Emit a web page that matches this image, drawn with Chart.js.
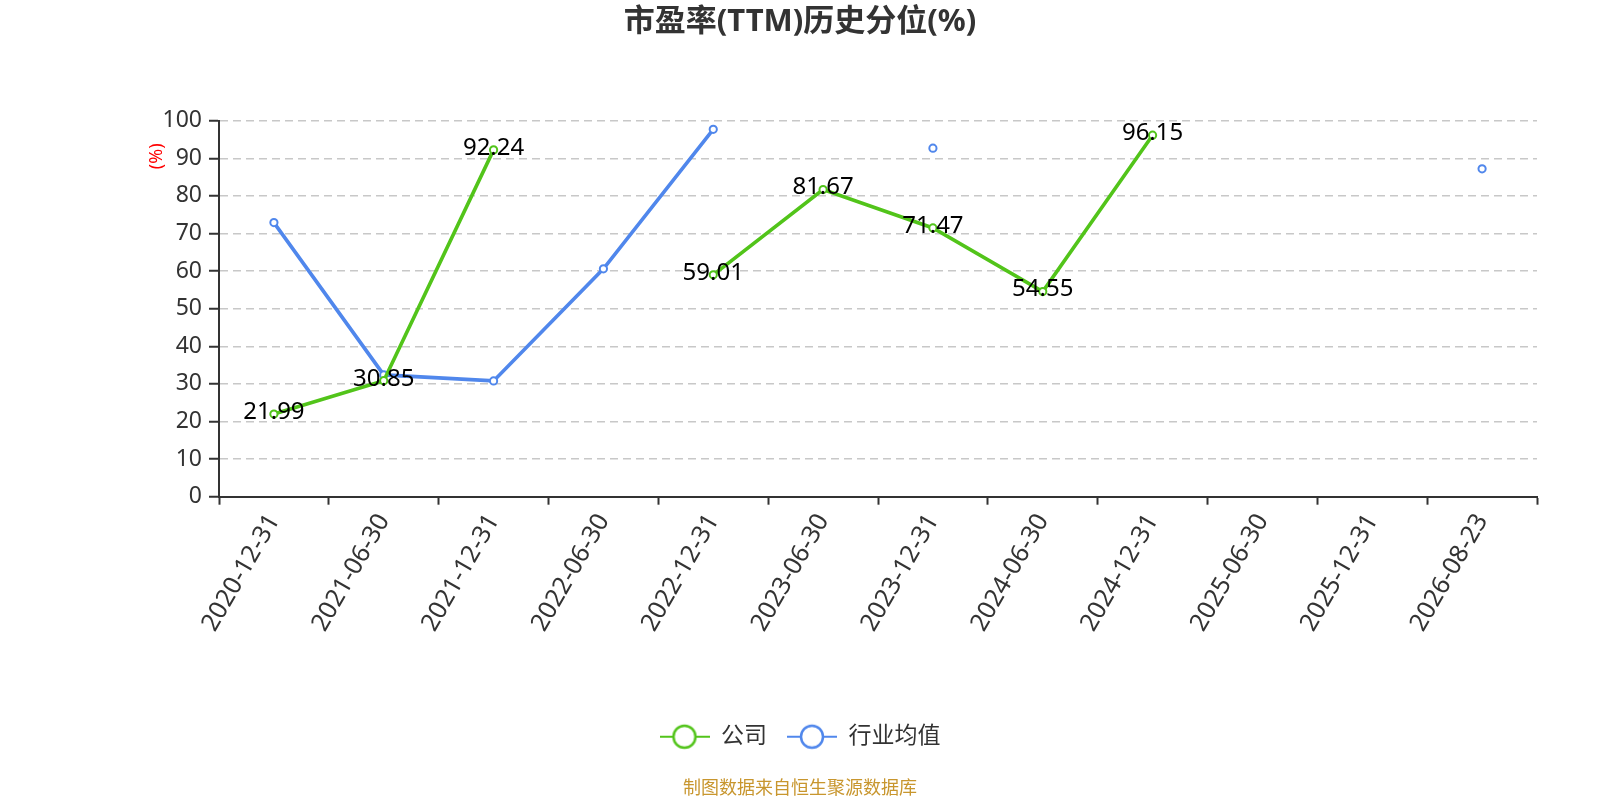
<!DOCTYPE html>
<html>
<head>
<meta charset="utf-8">
<script src="https://cdn.jsdelivr.net/npm/chart.js@4.4.1/dist/chart.umd.min.js"></script>
<style>
html,body{margin:0;padding:0;background:#fff;}
#wrap{width:1600px;height:800px;position:relative;}
</style>
</head>
<body>
<div id="wrap"><canvas id="c"></canvas></div>
<script>
const categories = ["2020-12-31","2021-06-30","2021-12-31","2022-06-30","2022-12-31","2023-06-30","2023-12-31","2024-06-30","2024-12-31","2025-06-30","2025-12-31","2026-08-23"];
const companyValues = [21.99, 30.85, 92.24, null, 59.01, 81.67, 71.47, 54.55, 96.15, null, null, null];
const industryValues = [72.9, 32.4, 30.8, 60.6, 97.7, null, 92.7, null, null, null, null, 87.2];
const seriesNames = ["公司", "行业均值"];
const yTicks = [0,10,20,30,40,50,60,70,80,90,100];

const GREEN = '#52c41a';
const BLUE = '#5087ec';
const FONT = "'Noto Sans', 'Noto Sans CJK SC', sans-serif";

function legendIcon(color){
  const cv = document.createElement('canvas');
  cv.width = 50; cv.height = 28;
  const g = cv.getContext('2d');
  g.strokeStyle = color; g.lineWidth = 2;
  g.beginPath(); g.moveTo(0,14); g.lineTo(50,14); g.stroke();
  g.beginPath(); g.arc(25,14,11,0,Math.PI*2);
  g.fillStyle = '#fff'; g.fill();
  g.lineWidth = 2.5; g.stroke();
  return cv;
}
const icons = [legendIcon(GREEN), legendIcon(BLUE)];

const labelPlugin = {
  id: 'valueLabels',
  afterDatasetsDraw(chart){
    const ctx = chart.ctx;
    const meta = chart.getDatasetMeta(0);
    ctx.save();
    ctx.font = "24px " + FONT;
    ctx.fillStyle = '#000';
    ctx.textAlign = 'center';
    ctx.textBaseline = 'middle';
    meta.data.forEach((pt, i) => {
      const v = companyValues[i];
      if (v === null || v === undefined) return;
      ctx.fillText(v.toFixed(2), pt.x, pt.y - 2);
    });
    ctx.restore();
  }
};

const axisNamePlugin = {
  id: 'axisName',
  afterDraw(chart){
    const ctx = chart.ctx;
    const ys = chart.scales.y;
    ctx.save();
    ctx.translate(157, ys.getPixelForValue(90) - 2);
    ctx.rotate(-Math.PI/2);
    ctx.font = "18px " + FONT;
    ctx.fillStyle = '#ff0000';
    ctx.textAlign = 'center';
    ctx.textBaseline = 'middle';
    ctx.fillText('(%)', 0, 0);
    ctx.restore();
  }
};

Chart.defaults.font.family = FONT;

new Chart(document.getElementById('c'), {
  type: 'line',
  data: {
    labels: categories,
    datasets: [
      {
        label: seriesNames[0],
        data: companyValues,
        borderColor: GREEN,
        backgroundColor: '#fff',
        borderWidth: 3.6,
        pointRadius: 3.6,
        pointBorderWidth: 2,
        pointBackgroundColor: '#fff',
        pointBorderColor: GREEN,
        spanGaps: false,
        tension: 0
      },
      {
        label: seriesNames[1],
        data: industryValues,
        borderColor: BLUE,
        backgroundColor: '#fff',
        borderWidth: 3.6,
        pointRadius: 3.6,
        pointBorderWidth: 2,
        pointBackgroundColor: '#fff',
        pointBorderColor: BLUE,
        spanGaps: false,
        tension: 0
      }
    ]
  },
  options: {
    responsive: true,
    maintainAspectRatio: false,
    animation: false,
    layout: { padding: { left: 0, right: 0, top: 0, bottom: 0 } },
    plugins: {
      title: {
        display: true,
        text: '市盈率(TTM)历史分位(%)',
        color: '#333',
        font: { size: 31, weight: 'bold', family: FONT },
        padding: { top: 4, bottom: 79.5 }
      },
      subtitle: {
        display: true,
        position: 'bottom',
        text: '制图数据来自恒生聚源数据库',
        color: '#c8962e',
        font: { size: 18, family: FONT },
        padding: { top: 19.5, bottom: 0.7 }
      },
      legend: {
        display: true,
        position: 'bottom',
        labels: {
          usePointStyle: true,
          pointStyleWidth: 50,
          padding: 20,
          color: '#333',
          font: { size: 23, family: FONT },
          generateLabels(chart){
            const items = Chart.defaults.plugins.legend.labels.generateLabels(chart);
            items.forEach((it, i) => { it.pointStyle = icons[i]; });
            return items;
          }
        }
      },
      tooltip: { enabled: false }
    },
    scales: {
      x: {
        type: 'category',
        offset: true,
        afterFit(s){ s.height = 208.5; },
        grid: {
          display: true,
          offset: true,
          drawOnChartArea: false,
          drawTicks: true,
          tickLength: 8,
          tickColor: '#333',
          tickWidth: 2
        },
        border: { display: true, color: '#333', width: 2 },
        ticks: {
          autoSkip: false,
          minRotation: 60,
          maxRotation: 60,
          padding: 4,
          color: '#333',
          font: { size: 25, family: FONT }
        }
      },
      y: {
        min: 0,
        max: 100,
        afterFit(s){ s.width = 219; },
        afterBuildTicks(s){ s.ticks = yTicks.map(v => ({ value: v })); },
        grid: {
          display: true,
          color: '#c8c8c8',
          lineWidth: 1.5,
          drawTicks: true,
          tickLength: 10,
          tickColor: '#333',
          tickWidth: 2,
          tickBorderDash: []
        },
        border: { display: true, color: '#333', width: 2, dash: [8, 5] },
        ticks: {
          stepSize: 10,
          padding: 7,
          color: '#333',
          font: { size: 23, family: FONT }
        }
      },
      yRight: {
        type: 'linear',
        position: 'right',
        display: true,
        afterFit(s){ s.width = 63; },
        grid: { display: false, drawTicks: false },
        border: { display: false },
        ticks: { display: false }
      }
    }
  },
  plugins: [labelPlugin, axisNamePlugin]
});
</script>
</body>
</html>
